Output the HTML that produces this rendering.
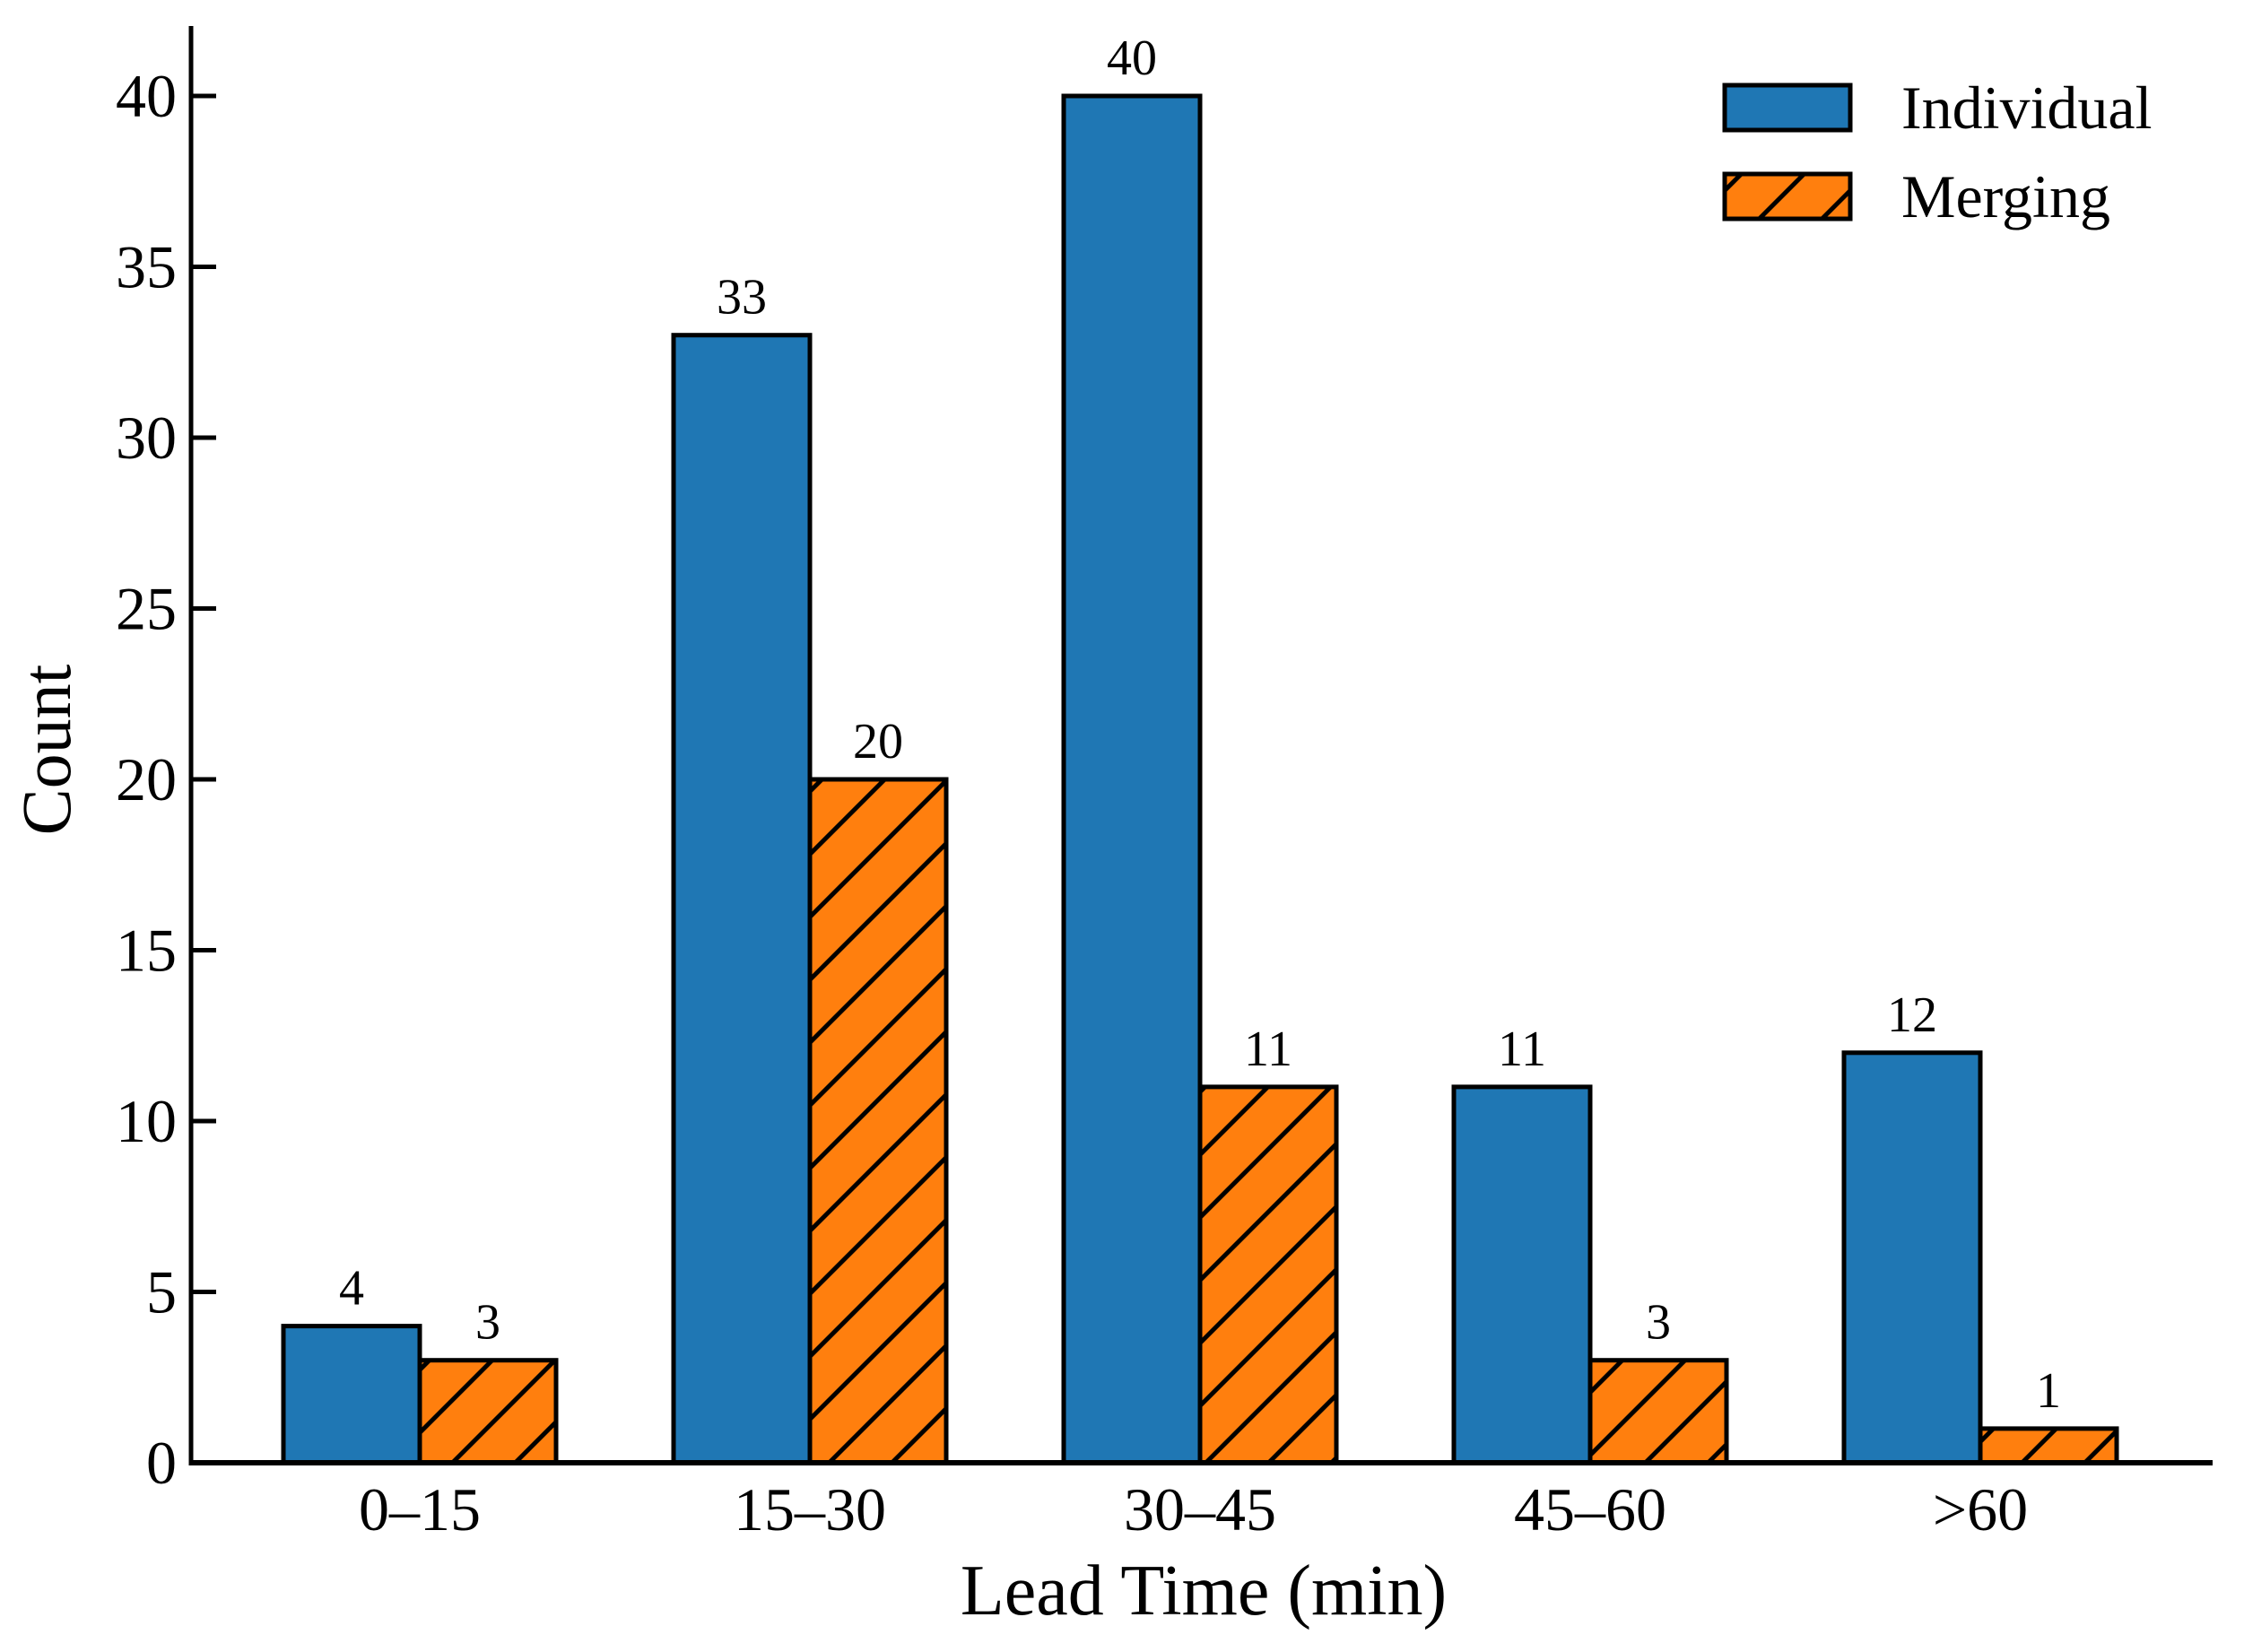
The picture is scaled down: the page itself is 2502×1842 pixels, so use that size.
<!DOCTYPE html>
<html><head><meta charset="utf-8"><style>
html,body{margin:0;padding:0;background:#fff;}
svg{display:block;font-family:"Liberation Serif",serif;}
</style></head><body>
<svg id="chart" width="2502" height="1842" viewBox="0 0 2502 1842" xmlns="http://www.w3.org/2000/svg">
<defs>
<pattern id="hatch" patternUnits="userSpaceOnUse" width="49.5" height="49.5" patternTransform="rotate(45)">
<rect width="49.5" height="49.5" fill="#ff7f0e"/>
<line x1="25" y1="-1" x2="25" y2="51" stroke="#000" stroke-width="5"/>
</pattern>
</defs>
<g id="bars"></g>
<g id="axes"></g>
<g>
<rect x="1923" y="95" width="140" height="50" fill="#1f77b4" stroke="#000" stroke-width="5"/>
<text x="2120" y="143" font-size="68">Individual</text>
<rect x="1923" y="194" width="140" height="50" fill="url(#hatch)" stroke="#000" stroke-width="5"/>
<text x="2120" y="242" font-size="68">Merging</text>
</g>
<text transform="translate(78,836) rotate(-90)" text-anchor="middle" font-size="78">Count</text>
<text x="1342" y="1800" text-anchor="middle" font-size="80">Lead Time (min)</text>
</svg>
<script>
const categories = ["0\u201315","15\u201330","30\u201345","45\u201360",">60"];
const individual = [4,33,40,11,12];
const merging = [3,20,11,3,1];
const yTicks = [0,5,10,15,20,25,30,35,40];

const NS="http://www.w3.org/2000/svg";
const x0=213, xEnd=2467, yZero=1631, yTop=29;
const firstCenter=468, step=435, barW=152;
const yScale=v=>yZero-v*(yZero-107)/40;
const xCenter=i=>firstCenter+i*step;
function mk(tag,attrs,parent){const e=document.createElementNS(NS,tag);for(const k in attrs)e.setAttribute(k,attrs[k]);parent.appendChild(e);return e;}
const bars=document.getElementById('bars'), axes=document.getElementById('axes');

categories.forEach((c,i)=>{
  const cx=xCenter(i);
  [[individual,'#1f77b4',-1,'individual'],[merging,'url(#hatch)',0,'merging']].forEach(([arr,fill,off,nm])=>{
    const v=arr[i], x=cx+off*barW, y=yScale(v);
    const r=mk('rect',{x:x,y:y,width:barW,height:yZero-y,fill:fill,stroke:'#000','stroke-width':5},bars);
    
    
    const t=mk('text',{x:x+barW/2,y:y-24,'text-anchor':'middle','font-size':56},bars);
    t.textContent=v;
    
    
  });
  const tl=mk('text',{x:cx,y:1706,'text-anchor':'middle','font-size':68},axes);
  tl.textContent=c;
  
  
});

yTicks.forEach(v=>{
  const y=yScale(v);
  const tk=mk('line',{x1:x0,x2:x0+28,y1:y,y2:y,stroke:'#000','stroke-width':5},axes);
  
  
  const tl=mk('text',{x:197,y:y+23,'text-anchor':'end','font-size':68},axes);
  tl.textContent=v;
  
  
});
const ya=mk('line',{x1:x0,x2:x0,y1:yTop,y2:yZero+2.5,stroke:'#000','stroke-width':5},axes);


const xa=mk('line',{x1:x0-2.5,x2:xEnd,y1:yZero,y2:yZero,stroke:'#000','stroke-width':6},axes);


</script>
</body></html>
